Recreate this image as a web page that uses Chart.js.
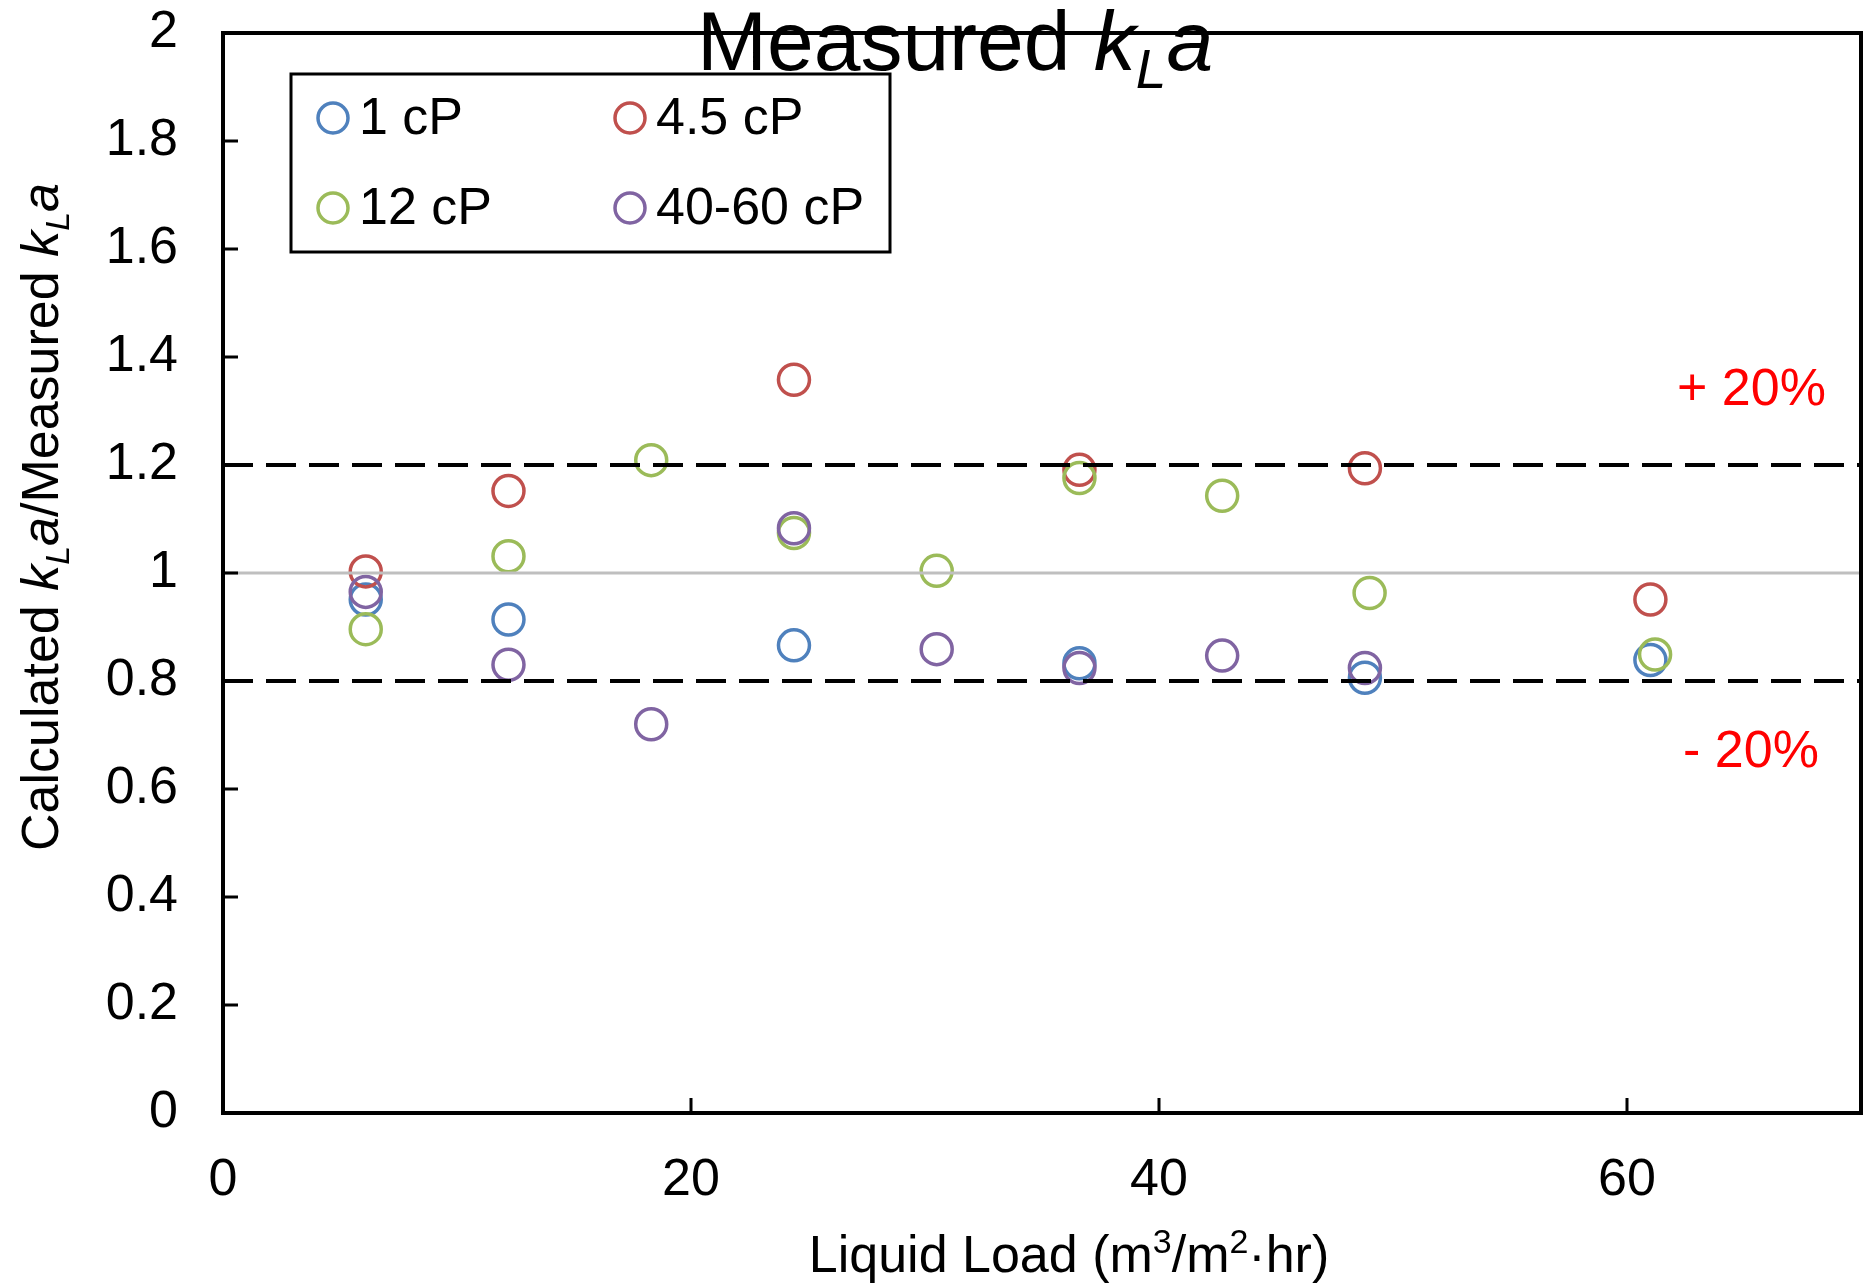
<!DOCTYPE html>
<html>
<head>
<meta charset="utf-8">
<script src="https://cdn.jsdelivr.net/npm/chart.js@4/dist/chart.umd.min.js"></script>
<style>
html, body { margin: 0; padding: 0; background: #fff; }
</style>
</head>
<body>
<canvas id="kla-chart" width="1865" height="1283"></canvas>
<script>
// data
var seriesNames = ["1 cP", "4.5 cP", "12 cP", "40-60 cP"];
var seriesColors = ["#4F81BD", "#C0504D", "#9BBB59", "#8064A2"];

var load1 = [6.1, 12.2, 24.4, 36.6, 48.8, 61.0];
var ratio1 = [0.951, 0.914, 0.866, 0.833, 0.806, 0.839];

var load45 = [6.1, 12.2, 24.4, 36.6, 48.8, 61.0];
var ratio45 = [1.003, 1.152, 1.358, 1.191, 1.194, 0.951];

var load12 = [6.1, 12.2, 18.3, 24.4, 30.5, 36.6, 42.7, 49.0, 61.2];
var ratio12 = [0.896, 1.031, 1.209, 1.074, 1.004, 1.176, 1.143, 0.963, 0.849];

var load4060 = [6.1, 12.2, 18.3, 24.4, 30.5, 36.6, 42.7, 48.8];
var ratio4060 = [0.965, 0.830, 0.720, 1.083, 0.859, 0.824, 0.847, 0.824];

// reference lines (perfect fit and +/-20%)
var refLoad = [0, 70];
var refOne = [1, 1];
var refPlus = [1.2, 1.2];
var refMinus = [0.8, 0.8];
var bandLabels = ["+ 20%", "- 20%"];

var xTicks = [0, 20, 40, 60];
var yTicks = [0, 0.2, 0.4, 0.6, 0.8, 1, 1.2, 1.4, 1.6, 1.8, 2];

var FONT = "'Liberation Sans', Arial, sans-serif";

function pts(xs, ys) {
    var out = [];
    for (var i = 0; i < xs.length; i++) out.push({x: xs[i], y: ys[i]});
    return out;
}

// text pieces: [text, style]  style: "" normal, "i" italic, "sub" italic subscript, "sup" superscript
function pieceFont(p, size) {
    var s = (p[1] === "sub" || p[1] === "sup") ? Math.round(size * 0.65) : size;
    var it = (p[1] === "i" || p[1] === "sub") ? "italic " : "";
    return it + s + "px " + FONT;
}
function drawRich(ctx, parts, x, y, size, align) {
    var w = 0, i;
    for (i = 0; i < parts.length; i++) {
        ctx.font = pieceFont(parts[i], size);
        w += ctx.measureText(parts[i][0]).width;
    }
    var cx = align === "center" ? x - w / 2 : x;
    ctx.textAlign = "left";
    ctx.textBaseline = "alphabetic";
    for (i = 0; i < parts.length; i++) {
        ctx.font = pieceFont(parts[i], size);
        var dy = 0;
        if (parts[i][1] === "sub") dy = size * 0.22;
        if (parts[i][1] === "sup") dy = -size * 0.36;
        ctx.fillText(parts[i][0], cx, y + dy);
        cx += ctx.measureText(parts[i][0]).width;
    }
}

var decorPlugin = {
    id: "decor",
    afterDatasetsDraw: function(chart) {
        var ctx = chart.ctx;
        var a = chart.chartArea;
        var xs = chart.scales.x, ys = chart.scales.y;
        ctx.save();

        // frame
        ctx.strokeStyle = "#000";
        ctx.lineWidth = 4;
        ctx.strokeRect(a.left, a.top, a.right - a.left, a.bottom - a.top);

        // inside tick marks
        ctx.lineWidth = 3;
        ctx.beginPath();
        yTicks.forEach(function(v) {
            var py = Math.round(ys.getPixelForValue(v));
            ctx.moveTo(a.left, py);
            ctx.lineTo(a.left + 15, py);
        });
        xTicks.forEach(function(v) {
            var px = Math.round(xs.getPixelForValue(v));
            ctx.moveTo(px, a.bottom);
            ctx.lineTo(px, a.bottom - 15);
        });
        ctx.stroke();

        // +/-20% labels
        ctx.fillStyle = "#FF0000";
        ctx.font = "52px " + FONT;
        ctx.textAlign = "right";
        ctx.textBaseline = "middle";
        ctx.fillText(bandLabels[0], xs.getPixelForValue(68.5), ys.getPixelForValue(1.337));
        ctx.fillText(bandLabels[1], xs.getPixelForValue(68.2), ys.getPixelForValue(0.667));

        // legend box
        ctx.fillStyle = "#fff";
        ctx.fillRect(291, 74, 599, 178);
        ctx.strokeStyle = "#000";
        ctx.lineWidth = 3;
        ctx.strokeRect(291, 74, 599, 178);
        var slots = [[333, 118], [630, 118], [333, 208], [630, 208]];
        for (var i = 0; i < seriesNames.length; i++) {
            ctx.beginPath();
            ctx.arc(slots[i][0], slots[i][1], 15, 0, Math.PI * 2);
            ctx.strokeStyle = seriesColors[i];
            ctx.lineWidth = 3.5;
            ctx.stroke();
            ctx.fillStyle = "#000";
            ctx.font = "52px " + FONT;
            ctx.textAlign = "left";
            ctx.textBaseline = "middle";
            ctx.fillText(seriesNames[i], slots[i][0] + 26, slots[i][1] + 2);
        }

        // chart title
        ctx.fillStyle = "#000";
        drawRich(ctx, [["Measured ", ""], ["k", "i"], ["L", "sub"], ["a", "i"]], 697, 70, 84, "left");

        // x axis title
        drawRich(ctx, [["Liquid Load (m", ""], ["3", "sup"], ["/m", ""], ["2", "sup"], ["\u00B7hr)", ""]],
            1069, 1272, 52, "center");

        // y axis title
        ctx.translate(58, 517);
        ctx.rotate(-Math.PI / 2);
        drawRich(ctx, [["Calculated ", ""], ["k", "i"], ["L", "sub"], ["a", "i"], ["/Measured ", ""],
            ["k", "i"], ["L", "sub"], ["a", "i"]], 0, 0, 52, "center");
        ctx.restore();
    }
};

function markerSet(label, xs, ys, color, order) {
    return {
        label: label,
        data: pts(xs, ys),
        borderColor: color,
        backgroundColor: "rgba(0,0,0,0)",
        borderWidth: 3.5,
        pointRadius: 15.5,
        pointHoverRadius: 15.5,
        pointStyle: "circle",
        order: order
    };
}
function lineSet(label, ys, color, width, dash) {
    return {
        label: label,
        data: pts(refLoad, ys),
        showLine: true,
        borderColor: color,
        borderWidth: width,
        borderDash: dash,
        pointRadius: 0,
        order: 0
    };
}

function noPad(s) {
    s.paddingTop = 0;
    s.paddingBottom = 0;
    s.paddingLeft = 0;
    s.paddingRight = 0;
}

var ctx = document.getElementById("kla-chart");
var chart = new Chart(ctx, {
    type: "scatter",
    data: {
        datasets: [
            markerSet(seriesNames[0], load1, ratio1, seriesColors[0], 4),
            markerSet(seriesNames[1], load45, ratio45, seriesColors[1], 3),
            markerSet(seriesNames[2], load12, ratio12, seriesColors[2], 2),
            markerSet(seriesNames[3], load4060, ratio4060, seriesColors[3], 1),
            lineSet("one", refOne, "#BFBFBF", 3, []),
            lineSet("plus", refPlus, "#000", 4, [30, 13]),
            lineSet("minus", refMinus, "#000", 4, [30, 13])
        ]
    },
    options: {
        responsive: false,
        animation: false,
        layout: { autoPadding: false, padding: { top: 33, right: 4, left: 0, bottom: 0 } },
        plugins: {
            legend: { display: false },
            tooltip: { enabled: false },
            title: { display: false }
        },
        scales: {
            x: {
                type: "linear",
                min: 0,
                max: 70,
                afterBuildTicks: function(s) { s.ticks = xTicks.map(function(v) { return {value: v}; }); },
                afterFit: function(s) { s.height = 170; noPad(s); },
                grid: { display: false, drawTicks: false },
                border: { display: false },
                ticks: { color: "#000", font: { family: FONT, size: 52 }, padding: 36, maxRotation: 0 }
            },
            y: {
                type: "linear",
                min: 0,
                max: 2,
                afterBuildTicks: function(s) { s.ticks = yTicks.map(function(v) { return {value: v}; }); },
                afterFit: function(s) { s.width = 223; noPad(s); },
                grid: { display: false, drawTicks: false },
                border: { display: false },
                ticks: {
                    color: "#000",
                    font: { family: FONT, size: 52 },
                    padding: 45,
                    callback: function(v) { return String(Math.round(v * 10) / 10); }
                }
            }
        }
    },
    plugins: [decorPlugin]
});
</script>
</body>
</html>
